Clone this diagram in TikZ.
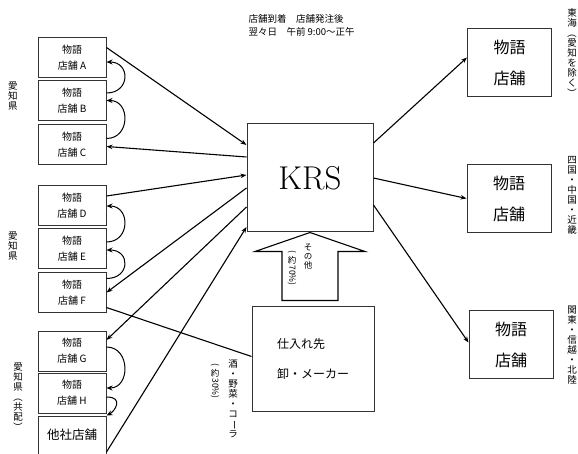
\documentclass[tikz,border=0pt]{standalone}
\usepackage{fontspec}
\newfontfamily\jp{Noto Sans CJK JP}
\usetikzlibrary{arrows.meta}
\newcommand{\vrot}[1]{\rotatebox[origin=c]{-90}{#1}}
\tikzset{
  shopbox/.style={draw=black!80,line width=1pt,minimum width=68pt,minimum height=40pt,inner sep=0pt,align=center,font=\jp\fontsize{10}{16}\selectfont},
  areabox/.style={draw=black!80,line width=1pt,minimum width=84pt,minimum height=68pt,align=center,font=\jp\fontsize{16}{31}\selectfont},
  vlabel/.style={align=center,inner sep=0pt,font=\jp\fontsize{9.5}{10}\selectfont},
  relay/.style={-{Stealth[open,length=6pt,width=5pt]},line width=1pt},
}

\begin{document}
\begin{tikzpicture}[x=1pt,y=-1pt,>={Stealth[length=6pt,width=4.5pt]},line width=1.1pt]
\useasboundingbox (0,0) rectangle (578,454);
\node[shopbox] (A) at (72,57.5) {物語\\店舗 A};
\node[shopbox] (B) at (72,100.5) {物語\\店舗 B};
\node[shopbox] (C) at (72,144.5) {物語\\店舗 C};
\node[shopbox] (D) at (72,206) {物語\\店舗 D};
\node[shopbox] (E) at (72,249) {物語\\店舗 E};
\node[shopbox] (F) at (72,292.5) {物語\\店舗 F};
\node[shopbox] (G) at (72,351) {物語\\店舗 G};
\node[shopbox] (H) at (72,393) {物語\\店舗 H};
\node[shopbox,minimum height=38pt,font=\jp\fontsize{12.5}{15}\selectfont] (other) at (72,435) {他社店舗};
\node[draw=black!80,line width=1pt,minimum width=126pt,minimum height=108pt,font=\rmfamily\fontsize{33}{38}\selectfont] (krs) at (310,178) {KRS};
\node[draw=black!80,line width=1pt,minimum width=122pt,minimum height=105pt,align=left,font=\jp\fontsize{12}{30}\selectfont] (sup) at (313,358.5) {仕入れ先\\卸・メーカー};
\node[areabox] (R1) at (509.5,62.5) {物語\\店舗};
\node[areabox] (R2) at (509,198.5) {物語\\店舗};
\node[areabox] (R3) at (511,344.5) {物語\\店舗};
\node[anchor=north west,align=left,inner sep=0pt,font=\jp\fontsize{9.5}{13}\selectfont] (note) at (248,14) {店舗到着　店舗発注後\\翌々日　午前 9:00〜正午};
\node[vlabel] (pref1) at (13,96) {愛\\知\\県};
\node[vlabel] (pref2) at (13,246) {愛\\知\\県};
\node[vlabel] (pref3) at (18,397) {愛\\知\\県\\\vrot{（}\\共\\配\\\vrot{）}};
\node[vlabel] (area1) at (572,53) {東\\海\\\vrot{（}\\愛\\知\\を\\除\\く\\\vrot{）}};
\node[vlabel] (area2) at (572,195) {四\\国\\・\\中\\国\\・\\近\\畿};
\node[vlabel] (area3) at (572,345) {関\\東\\・\\信\\越\\・\\北\\陸};
\node[vlabel] (goods) at (233,399) {酒\\・\\野\\菜\\・\\コ\\\vrot{ー}\\ラ};
\node[vlabel,font=\jp\fontsize{8.5}{9}\selectfont] (share30) at (215,381) {\vrot{(}\\約\\\vrot{30\%)}};
\node[vlabel,font=\jp\fontsize{8.5}{9}\selectfont] (rest) at (308,257) {そ\\の\\他};
\node[vlabel,font=\jp\fontsize{8.5}{9}\selectfont] (share70) at (292,268) {\vrot{(}\\約\\\vrot{70\%)}};
\draw (krs.south) -- ++(-55,19) -- ++(27,0) -- ++(0,49) -- ++(56,0) -- ++(0,-49) -- ++(27,0) -- cycle;
\draw[->] ([yshift=10pt]A.east) -- ([yshift=33pt]krs.west);
\draw[->] ([yshift=21pt]krs.west) -- ([yshift=-2pt]C.east);
\draw[->] ([yshift=10pt]D.east) -- ([yshift=3pt]krs.west);
\draw[->] ([yshift=-10pt]krs.west) -- (F.east);
\draw[->] ([yshift=-29pt]krs.west) -- ([yshift=11pt]G.east);
\draw[->] ([yshift=-17pt]other.east) -- ([yshift=-49pt]krs.west);
\draw ([yshift=-15pt]F.east) -- ([yshift=2pt]sup.west);
\draw[->] ([yshift=35pt]krs.east) -- ([yshift=5pt]R1.west);
\draw[->] (krs.east) -- (R2.west);
\draw[->] ([yshift=-27pt]krs.east) -- ([yshift=2pt]R3.west);
\draw[relay] ([yshift=7.5pt]B.east) .. controls +(24,0) and +(24,0) .. ([yshift=-4.5pt]A.east);
\draw[relay] ([yshift=6pt]C.east) .. controls +(24,0) and +(24,0) .. (B.east);
\draw[relay] ([yshift=7pt]E.east) .. controls +(24,0) and +(24,0) .. (D.east);
\draw[relay] ([yshift=14pt]F.east) .. controls +(24,0) and +(24,0) .. ([yshift=-1pt]E.east);
\draw[relay] ([yshift=4pt]G.east) .. controls +(24,0) and +(24,0) .. ([yshift=5pt]H.east);
\draw[relay] ([yshift=-4pt]H.east) .. controls +(18,0) and +(8,-4) .. (other.north east);
\end{tikzpicture}
\end{document}
